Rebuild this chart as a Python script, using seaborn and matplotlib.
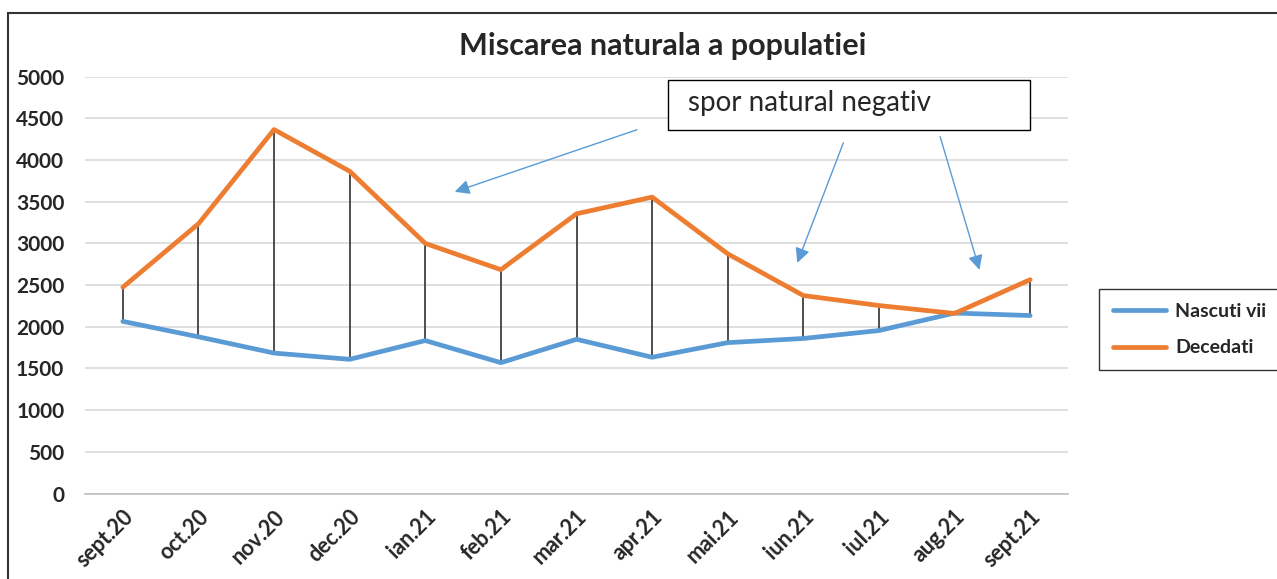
import matplotlib.pyplot as plt
import matplotlib.patches as mpatches
from matplotlib.ticker import FixedLocator
import pandas as pd
import seaborn as sns

sns.set_style("white")
plt.rcParams['font.family'] = ['Lato', 'DejaVu Sans']

months = ['sept.20', 'oct.20', 'nov.20', 'dec.20', 'ian.21', 'feb.21', 'mar.21',
          'apr.21', 'mai.21', 'iun.21', 'iul.21', 'aug.21', 'sept.21']
nascuti = [2065, 1880, 1685, 1610, 1835, 1570, 1850, 1635, 1810, 1860, 1955, 2165, 2135]
decedati = [2475, 3235, 4365, 3865, 3000, 2685, 3355, 3555, 2875, 2375, 2255, 2160, 2565]
series = ['Nascuti vii', 'Decedati']
colors = ['#5B9BD5', '#ED7D31']
yticks = list(range(0, 5001, 500))

df = pd.DataFrame({'luna': months * 2,
                   'pos': list(range(len(months))) * 2,
                   'valoare': nascuti + decedati,
                   'serie': [series[0]] * len(months) + [series[1]] * len(months)})

fig = plt.figure(figsize=(12.77, 5.79), dpi=100)
ax = fig.add_axes([0.0666, 0.1475, 0.7697, 0.7202])

# high-low lines between the two series
ax.vlines(range(len(months)), nascuti, decedati, color='#404040', lw=1.3, zorder=2)

sns.lineplot(data=df, x='pos', y='valoare', hue='serie', palette=colors,
             linewidth=3.4, ax=ax, zorder=3, legend=False)

ax.set_xlim(-0.5, len(months) - 0.5)
ax.set_ylim(0, 5000)
ax.set_yticks(yticks)
ax.set_yticklabels([str(v) for v in yticks], fontsize=15, fontweight='bold')
ax.set_xticks(range(len(months)))
ax.set_xticklabels(months, fontsize=15.5, fontweight='bold', rotation=45,
                   ha='right', va='top', rotation_mode='anchor')
ax.xaxis.set_minor_locator(FixedLocator([i - 0.5 for i in range(len(months) + 1)]))
ax.tick_params(axis='x', which='major', length=0, pad=9)
ax.tick_params(axis='x', which='minor', length=5, color='#BFBFBF', width=1)
ax.tick_params(axis='y', length=0, pad=15)
ax.set_xlabel('')
ax.set_ylabel('')
ax.grid(axis='y', color='#D9D9D9', lw=1.2)
ax.set_axisbelow(True)
for s in ['top', 'right', 'left']:
    ax.spines[s].set_visible(False)
ax.spines['bottom'].set_color('#BFBFBF')
ax.spines['bottom'].set_linewidth(1.2)

fig.suptitle('Miscarea naturala a populatiei', x=0.519, y=0.945,
             fontsize=22, fontweight='bold')

# annotation box with arrows
ax.add_patch(mpatches.Rectangle((7.21, 4363), 4.79, 600, fill=True, facecolor='white',
                                edgecolor='black', lw=1, clip_on=False, zorder=5))
ax.text(7.48, 4680, 'spor natural negativ', fontsize=20, va='center', ha='left', zorder=6)
arrow = dict(arrowstyle='-|>', mutation_scale=22, lw=1, color='#5B9BD5',
             shrinkA=0, shrinkB=0)
ax.annotate('', xy=(4.39, 3619), xytext=(6.80, 4363), arrowprops=arrow)
ax.annotate('', xy=(8.92, 2767), xytext=(9.53, 4207), arrowprops=arrow)
ax.annotate('', xy=(11.33, 2683), xytext=(10.81, 4279), arrowprops=arrow)

handles = [plt.Line2D([], [], color=c, lw=3.4, solid_capstyle='round') for c in colors]
leg = fig.legend(handles, series, loc='center left', bbox_to_anchor=(0.861, 0.4305),
                 prop={'weight': 'bold', 'size': 14}, frameon=True,
                 fancybox=False, edgecolor='black', handlelength=2.7,
                 handletextpad=0.5, labelspacing=1.0, borderpad=0.7,
                 borderaxespad=0)
leg.get_frame().set_linewidth(1)

# outer border of the chart area
fig.patches.append(mpatches.Rectangle((8 / 1277, -0.05), 1.1, 1 - 13 / 579 + 0.05,
                                      transform=fig.transFigure, fill=False,
                                      edgecolor='#333333', lw=1.5))

fig.savefig('out.png', dpi=100)
